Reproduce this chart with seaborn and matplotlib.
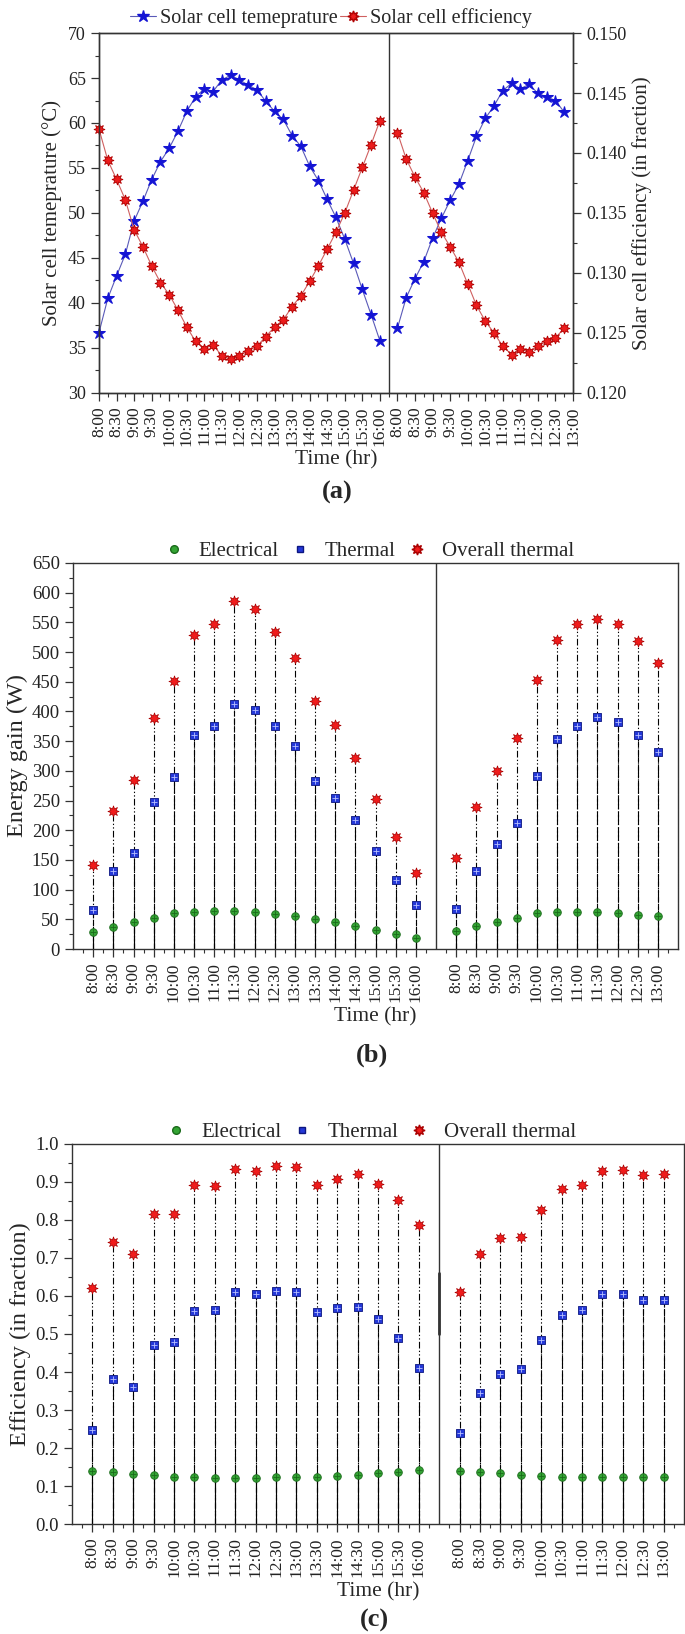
import matplotlib
matplotlib.use('Agg')
import matplotlib.pyplot as plt
import numpy as np
import pandas as pd
import seaborn as sns
from matplotlib.lines import Line2D
from matplotlib.ticker import MultipleLocator, FormatStrFormatter

sns.set_style('ticks')
plt.rcParams['font.family'] = ['Liberation Serif', 'DejaVu Serif']

# ---- data -------------------------------------------------------------
# (a) solar cell temperature and efficiency, every 15 min
temp_day1 = [36.7, 40.5, 43.0, 45.4, 49.1, 51.3, 53.7, 55.7, 57.2, 59.1, 61.3,
             62.9, 63.8, 63.5, 64.8, 65.3, 64.8, 64.2, 63.7, 62.4, 61.3, 60.4,
             58.6, 57.4, 55.2, 53.6, 51.5, 49.5, 47.1, 44.4, 41.5, 38.7, 35.8]
eff_day1 = [0.1420, 0.1394, 0.1378, 0.1361, 0.1336, 0.1322, 0.1306, 0.1292,
            0.1282, 0.1269, 0.1255, 0.1243, 0.1237, 0.1240, 0.1231, 0.1228,
            0.1231, 0.1235, 0.1239, 0.1247, 0.1255, 0.1261, 0.1272, 0.1281,
            0.1293, 0.1306, 0.1320, 0.1334, 0.1350, 0.1369, 0.1388, 0.1407, 0.1427]
temp_day2 = [37.2, 40.6, 42.7, 44.6, 47.2, 49.4, 51.4, 53.2, 55.8, 58.5, 60.5,
             61.9, 63.6, 64.4, 63.8, 64.3, 63.3, 62.9, 62.5, 61.2]
eff_day2 = [0.1417, 0.1395, 0.1380, 0.1367, 0.1350, 0.1334, 0.1322, 0.1309,
            0.1291, 0.1273, 0.1260, 0.1250, 0.1239, 0.1232, 0.1237, 0.1234,
            0.1239, 0.1243, 0.1246, 0.1254]

day1_labels = ['8:00', '8:30', '9:00', '9:30', '10:00', '10:30', '11:00', '11:30',
               '12:00', '12:30', '13:00', '13:30', '14:00', '14:30', '15:00',
               '15:30', '16:00']
day2_labels = ['8:00', '8:30', '9:00', '9:30', '10:00', '10:30', '11:00', '11:30',
               '12:00', '12:30', '13:00']

# (b) energy gain (W), every 30 min
elec_gain_day1 = [28, 37, 46, 53, 60, 63, 64, 64, 63, 59, 55, 50, 45, 39, 32, 25, 19]
therm_gain_day1 = [65, 131, 161, 247, 290, 361, 376, 412, 402, 376, 342, 283, 255,
                   217, 165, 117, 74]
overall_gain_day1 = [142, 232, 285, 389, 452, 529, 547, 586, 573, 534, 490, 418,
                     377, 321, 252, 188, 128]
elec_gain_day2 = [31, 39, 46, 53, 60, 62, 63, 62, 60, 58, 55]
therm_gain_day2 = [67, 131, 176, 213, 291, 353, 376, 390, 383, 360, 332]
overall_gain_day2 = [153, 239, 300, 356, 453, 520, 547, 556, 547, 518, 481]

# (c) efficiency (fraction), every 30 min
elec_eff_day1 = [0.140, 0.136, 0.132, 0.128, 0.125, 0.124, 0.122, 0.122, 0.121,
                 0.123, 0.124, 0.125, 0.127, 0.130, 0.133, 0.137, 0.141]
therm_eff_day1 = [0.247, 0.382, 0.360, 0.471, 0.480, 0.561, 0.564, 0.611, 0.604,
                  0.614, 0.611, 0.559, 0.568, 0.572, 0.539, 0.489, 0.411]
overall_eff_day1 = [0.620, 0.742, 0.711, 0.816, 0.816, 0.891, 0.889, 0.934, 0.928,
                    0.942, 0.940, 0.893, 0.908, 0.920, 0.894, 0.853, 0.786]
elec_eff_day2 = [0.140, 0.136, 0.133, 0.130, 0.127, 0.125, 0.123, 0.123, 0.123,
                 0.123, 0.125]
therm_eff_day2 = [0.239, 0.346, 0.396, 0.409, 0.484, 0.551, 0.564, 0.604, 0.604,
                  0.589, 0.589]
overall_eff_day2 = [0.610, 0.711, 0.752, 0.756, 0.825, 0.882, 0.891, 0.929, 0.931,
                    0.918, 0.921]

SPINE = '#333333'
GREEN, GREEN_E = '#34a434', '#1a6a1a'
BLUE, BLUE_E = '#2438d8', '#0c1680'
RED, RED_E = '#f01c1c', '#a80000'
STAR8 = (8, 1, 0)


def style_axis(ax, xsize, ysize):
    for s in ax.spines.values():
        s.set_color(SPINE)
        s.set_linewidth(1.0)
    ax.tick_params(which='major', direction='out', length=6, width=0.9,
                   colors=SPINE, labelcolor='#222222')
    ax.tick_params(which='minor', direction='out', length=3, width=0.8, colors=SPINE)
    ax.tick_params(axis='x', labelsize=xsize)
    ax.tick_params(axis='y', labelsize=ysize)


fig = plt.figure(figsize=(6.85, 16.34), dpi=100)

# ---- (a) ---------------------------------------------------------------
ax_a = fig.add_axes([0.1445, 0.7595, 0.692, 0.2203])
ax_r = ax_a.twinx()

pos1 = np.arange(len(temp_day1))
pos2 = np.arange(len(temp_day2)) + len(temp_day1) + 1
df_a = pd.DataFrame({
    'pos': np.concatenate([pos1, pos2]),
    'temp': temp_day1 + temp_day2,
    'eff': eff_day1 + eff_day2,
    'day': ['d1'] * len(pos1) + ['d2'] * len(pos2),
})

for day, grp in df_a.groupby('day'):
    sns.lineplot(data=grp, x='pos', y='temp', ax=ax_a, sort=False, estimator=None,
                 color='#5a5ab8', lw=0.8, marker='*', markersize=9,
                 markerfacecolor='#1414d4', markeredgecolor='#1414d4', clip_on=False)
    sns.lineplot(data=grp, x='pos', y='eff', ax=ax_r, sort=False, estimator=None,
                 color='#d06060', lw=0.8, marker=STAR8, markersize=8,
                 markerfacecolor='#ec1c1c', markeredgecolor='#b00000',
                 markeredgewidth=0.6, clip_on=False)

ax_a.axvline(len(temp_day1), color=SPINE, lw=1.0)
ax_a.set_xlim(0, pos2[-1] + 1)
ax_a.set_ylim(30, 70)
ax_r.set_ylim(0.120, 0.150)
ax_a.yaxis.set_major_locator(MultipleLocator(5))
ax_a.yaxis.set_minor_locator(MultipleLocator(2.5))
ax_r.yaxis.set_major_locator(MultipleLocator(0.005))
ax_r.yaxis.set_minor_locator(MultipleLocator(0.0025))
ax_r.yaxis.set_major_formatter(FormatStrFormatter('%.3f'))

ticks_a = list(pos1[::2]) + list(np.arange(pos2[0], pos2[-1] + 2, 2))
ax_a.set_xticks(ticks_a)
ax_a.set_xticklabels(day1_labels + day2_labels, rotation=90)
ax_a.set_xticks(np.arange(1, pos2[-1] + 1, 2), minor=True)
style_axis(ax_a, 12.5, 13)
style_axis(ax_r, 12.5, 13)
ax_a.set_xlabel('Time (hr)', fontsize=15.5, labelpad=3)
ax_a.set_ylabel('Solar cell temeprature (°C)', fontsize=15)
ax_r.set_ylabel('Solar cell efficiency (in fraction)', fontsize=15)

h_a = [Line2D([], [], color='#5a5ab8', lw=0.8, marker='*', markersize=9,
              markerfacecolor='#1414d4', markeredgecolor='#1414d4'),
       Line2D([], [], color='#d06060', lw=0.8, marker=STAR8, markersize=8,
              markerfacecolor='#ec1c1c', markeredgecolor='#b00000')]
ax_a.legend(h_a, ['Solar cell temeprature', 'Solar cell efficiency'],
            loc='lower center', bbox_to_anchor=(0.49, 1.0), ncol=2, frameon=False,
            fontsize=14.5, handlelength=1.3, handletextpad=0.2, columnspacing=0.1,
            borderaxespad=0.15, borderpad=0.1)
fig.text(0.493, 1 - 492 / 1634, '(a)', ha='center', va='center',
         fontsize=19, fontweight='bold')


# ---- (b) and (c) -------------------------------------------------------
def drop_panel(ax, elec1, therm1, over1, elec2, therm2, over2):
    x1 = np.arange(len(elec1))
    x2 = np.arange(len(elec2)) + len(elec1) + 1
    df = pd.DataFrame({
        'pos': np.concatenate([x1, x2]),
        'elec': elec1 + elec2,
        'therm': therm1 + therm2,
        'over': over1 + over2,
    })
    ax.vlines(df['pos'], 0, df['over'], color='black', lw=0.8,
              linestyles=[(0, (6, 2, 1.2, 2, 1.2, 2))], zorder=1)
    ax.vlines(df['pos'], 0, df['therm'], color='black', lw=0.8,
              linestyles=[(0, (5, 2))], zorder=1)
    ax.vlines(df['pos'], 0, df['elec'], color='black', lw=0.8, zorder=1)

    sns.scatterplot(data=df, x='pos', y='over', ax=ax, marker=STAR8, s=65,
                    color=RED, edgecolor=RED_E, linewidth=0.5, zorder=3)
    sns.scatterplot(data=df, x='pos', y='therm', ax=ax, marker='s', s=28,
                    color=BLUE, edgecolor=BLUE_E, linewidth=0.6, zorder=3)
    sns.scatterplot(data=df, x='pos', y='therm', ax=ax, marker='+', s=20,
                    color='#b8c0ff', linewidth=0.6, zorder=4)
    sns.scatterplot(data=df, x='pos', y='elec', ax=ax, marker='o', s=30,
                    color=GREEN, edgecolor=GREEN_E, linewidth=0.6, zorder=3)
    sns.scatterplot(data=df, x='pos', y='elec', ax=ax, marker='+', s=24,
                    color=GREEN_E, linewidth=0.6, zorder=4)

    ax.axvline(len(elec1), color=SPINE, lw=1.0)
    ax.set_xlim(-1, x2[-1] + 1)
    ax.set_xticks(df['pos'])
    ax.set_xticklabels(day1_labels + day2_labels, rotation=90)
    ax.set_xticks(np.arange(-0.5, x2[-1] + 1, 1), minor=True)
    style_axis(ax, 12.5, 13.5)
    ax.set_xlabel('Time (hr)', fontsize=15.5, labelpad=4)

    h = [Line2D([], [], ls='none', marker='o', markersize=5.5, markerfacecolor=GREEN,
                markeredgecolor=GREEN_E),
         Line2D([], [], ls='none', marker='s', markersize=5, markerfacecolor=BLUE,
                markeredgecolor=BLUE_E),
         Line2D([], [], ls='none', marker=STAR8, markersize=8, markerfacecolor=RED,
                markeredgecolor=RED_E)]
    ax.legend(h, ['Electrical', 'Thermal', 'Overall thermal'], loc='lower center',
              bbox_to_anchor=(0.485, 1.0), ncol=3, frameon=False, fontsize=15,
              handlelength=1.4, handletextpad=0.5, columnspacing=0.3,
              borderaxespad=0.05, borderpad=0.05)
    return len(elec1)


ax_b = fig.add_axes([0.1066, 0.4192, 0.8832, 0.2363])
drop_panel(ax_b, elec_gain_day1, therm_gain_day1, overall_gain_day1,
           elec_gain_day2, therm_gain_day2, overall_gain_day2)
ax_b.set_ylim(0, 650)
ax_b.yaxis.set_major_locator(MultipleLocator(50))
ax_b.yaxis.set_minor_locator(MultipleLocator(25))
ax_b.set_ylabel('Energy gain (W)', fontsize=17.5, labelpad=3)
fig.text(0.543, 1 - 1055 / 1634, '(b)', ha='center', va='center',
         fontsize=19, fontweight='bold')

ax_c = fig.add_axes([0.1051, 0.0673, 0.8934, 0.2326])
div_c = drop_panel(ax_c, elec_eff_day1, therm_eff_day1, overall_eff_day1,
                   elec_eff_day2, therm_eff_day2, overall_eff_day2)
# slightly heavier stretch of the separator, as in the source figure
ax_c.plot([div_c, div_c], [0.50, 0.66], color=SPINE, lw=2.0, zorder=2)
ax_c.set_ylim(0, 1.0)
ax_c.yaxis.set_major_locator(MultipleLocator(0.1))
ax_c.yaxis.set_minor_locator(MultipleLocator(0.05))
ax_c.yaxis.set_major_formatter(FormatStrFormatter('%.1f'))
ax_c.set_ylabel('Efficiency (in fraction)', fontsize=17.5, labelpad=3)
fig.text(0.547, 1 - 1620 / 1634, '(c)', ha='center', va='center',
         fontsize=19, fontweight='bold')

fig.savefig('out.png', dpi=100)
